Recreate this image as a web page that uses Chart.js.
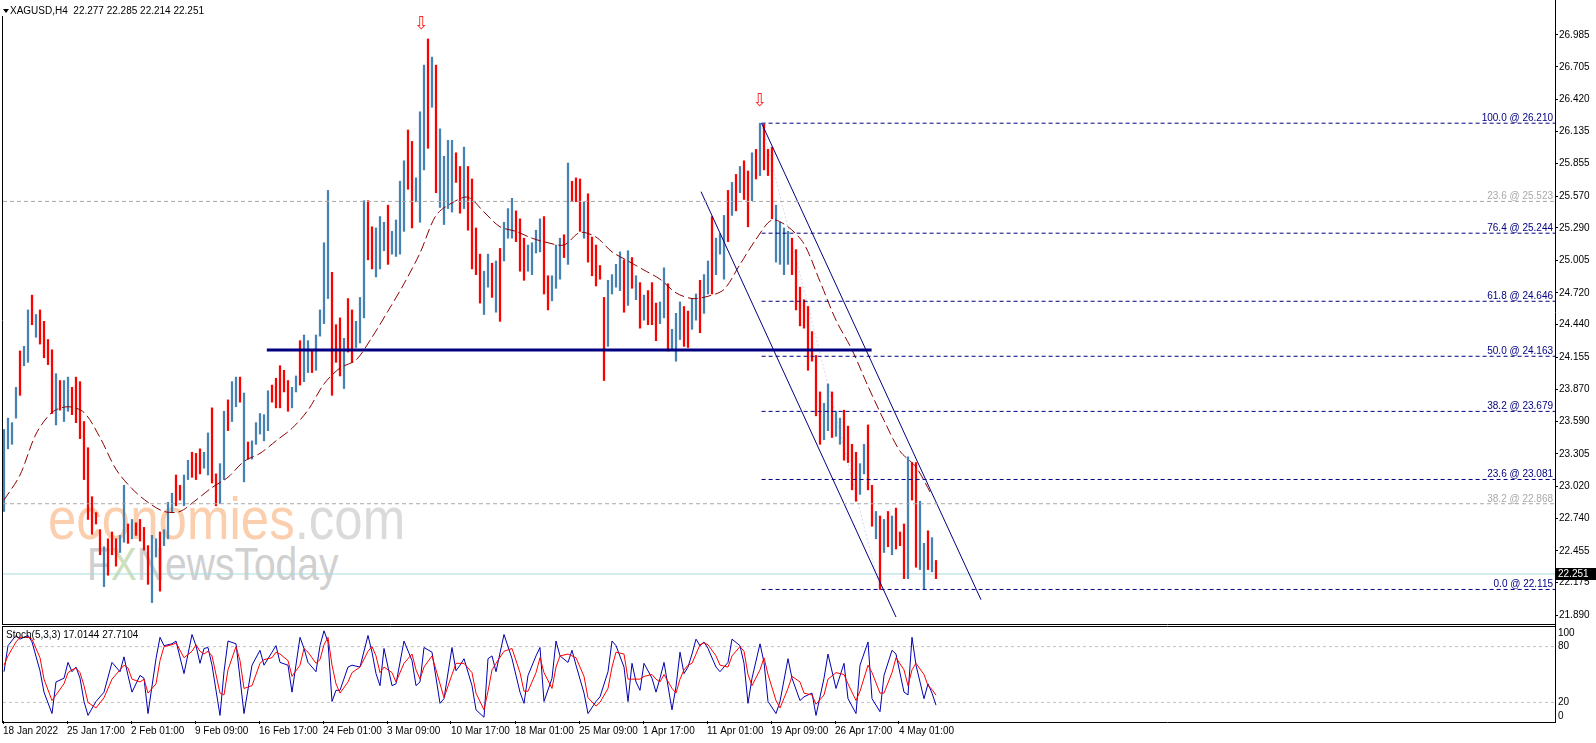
<!DOCTYPE html>
<html>
<head>
<meta charset="utf-8">
<script src="https://cdn.jsdelivr.net/npm/chart.js@4.4.1/dist/chart.umd.min.js"></script>
<style>
  body { margin: 0; background: #fff; width: 1596px; height: 743px; overflow: hidden; position: relative;
         font-family: "Liberation Sans", Arial, sans-serif; }
  canvas { position: absolute; left: 0; z-index: 1; }
  #main { top: 0; }
  #stoch { top: 625px; }
  .wm { position: absolute; white-space: nowrap; line-height: 1; transform-origin: 0 0; z-index: 0; }
  #wmEco { left: 48px; top: 489px; font-size: 60px; transform: scaleX(0.85); }
  #wmFx { left: 87px; top: 540px; font-size: 47px; color: #d0d0d0; transform: scaleX(0.83); }
  .txt { position: absolute; z-index: 2; font-size: 10px; white-space: pre; line-height: 12px; color: #000; }
  #legend { left: 10px; top: 5px; }
  #tri { position: absolute; left: 3px; top: 9px; width: 0; height: 0; z-index: 2;
         border-left: 3px solid transparent; border-right: 3px solid transparent; border-top: 4px solid #000; }
  #stochLabel { left: 6px; top: 629px; }
</style>
</head>
<body>
<div class="wm" id="wmEco"><span style="color:#fbcfae">economies</span><span style="color:#dadada">.com</span></div>
<div class="wm" id="wmFx">F<span style="color:#cde0bd">X</span>NewsToday</div>
<canvas id="main" width="1596" height="625"></canvas>
<canvas id="stoch" width="1596" height="118"></canvas>
<div id="tri"></div>
<div class="txt" id="legend"></div>
<div class="txt" id="stochLabel"></div>
<script>
// ---- data (one bar = two H4 candles) ----
const symbol = "XAGUSD,H4";
const ohlc = [22.277, 22.285, 22.214, 22.251];
const lastPrice = 22.251;

const xLabels = ["18 Jan 2022", "25 Jan 17:00", "2 Feb 01:00", "9 Feb 09:00", "16 Feb 17:00", "24 Feb 01:00",
  "3 Mar 09:00", "10 Mar 17:00", "18 Mar 01:00", "25 Mar 09:00", "1 Apr 17:00", "11 Apr 01:00",
  "19 Apr 09:00", "26 Apr 17:00", "4 May 01:00"];
const xLabelBars = [0, 16, 32, 48, 64, 80, 96, 112, 128, 144, 160, 176, 192, 208, 224];

const priceTicks = [26.985, 26.705, 26.420, 26.135, 25.855, 25.570, 25.290, 25.005, 24.720, 24.440,
  24.155, 23.870, 23.590, 23.305, 23.020, 22.740, 22.455, 22.175, 21.890];

const highs = [
  23.52,23.62,23.58,23.89,24.21,24.25,24.57,24.70,24.53,24.57,
  24.47,24.31,24.22,24.01,23.95,23.95,23.98,23.89,23.98,23.94,
  23.59,23.36,22.93,22.79,22.64,22.49,22.56,22.62,22.56,22.59,
  23.03,22.69,22.73,22.70,22.73,22.66,22.50,22.59,22.56,22.62,
  22.64,22.88,22.96,23.12,23.03,23.12,23.25,23.32,23.31,23.35,
  23.32,23.49,23.71,23.13,23.22,23.68,23.78,23.94,23.98,23.98,
  23.84,23.41,23.42,23.58,23.66,23.65,23.86,23.91,23.97,24.08,
  24.04,23.95,23.89,23.99,24.30,24.35,24.30,24.22,24.35,24.57,
  25.16,25.62,24.90,24.44,24.50,24.32,24.67,24.57,24.47,24.68,
  25.53,25.53,25.30,25.29,25.39,25.34,25.49,25.26,25.36,25.70,
  25.88,26.15,26.05,25.73,26.31,26.72,26.95,26.79,26.72,26.16,
  25.92,26.06,26.06,25.95,25.83,26.00,25.83,25.72,25.29,25.06,
  24.91,25.06,24.98,25.00,25.11,25.34,25.46,25.55,25.44,25.37,
  25.20,25.14,25.16,25.27,25.37,25.39,24.87,24.87,25.14,25.20,
  25.23,25.86,25.70,25.73,25.72,25.52,25.59,25.21,25.14,24.96,
  24.68,24.83,24.88,24.97,25.08,25.01,25.09,25.03,24.87,24.81,
  24.70,24.74,24.81,24.63,24.64,24.94,24.80,24.40,24.54,24.64,
  24.60,24.56,24.67,24.71,24.83,24.88,25.00,25.39,25.20,25.24,
  25.40,25.62,25.69,25.76,25.83,25.88,25.79,25.95,25.98,26.21,
  26.20,25.98,26.00,25.49,25.34,25.29,25.26,25.20,25.10,24.77,
  24.66,24.60,24.38,24.17,23.85,23.75,23.92,23.85,23.68,23.62,
  23.69,23.55,23.39,23.32,23.22,23.39,23.56,23.03,22.80,22.76,
  22.73,22.80,22.76,22.83,22.62,22.69,23.28,23.23,23.23,22.89,
  22.52,22.63,22.57,22.37];
const lows = [
  22.80,23.35,23.39,23.62,23.82,24.08,24.11,24.44,24.33,24.27,
  24.15,24.09,23.66,23.56,23.69,23.59,23.68,23.65,23.58,23.44,
  23.08,22.73,22.60,22.69,22.42,22.14,22.24,22.42,22.32,22.44,
  22.53,22.52,22.56,22.59,22.54,22.46,22.16,22.00,22.40,22.10,
  22.50,22.56,22.79,22.85,22.90,22.85,23.08,23.10,23.08,23.13,
  23.18,23.12,23.05,22.85,22.87,23.08,23.51,23.59,23.72,23.76,
  23.06,23.26,23.26,23.39,23.48,23.42,23.51,23.76,23.71,23.71,
  23.85,23.68,23.71,23.85,23.91,23.94,24.02,24.02,24.04,24.34,
  24.45,24.67,23.82,24.11,23.99,23.88,24.20,24.11,24.24,24.28,
  24.50,25.01,24.93,24.86,24.93,25.09,24.97,25.06,25.04,25.06,
  25.26,25.63,25.29,25.52,25.34,25.80,25.99,26.35,25.60,25.47,
  25.32,25.46,25.43,25.69,25.42,25.46,25.27,24.93,24.88,24.63,
  24.53,24.77,24.68,24.55,24.47,25.00,25.20,25.20,25.17,24.91,
  24.83,24.91,24.88,25.07,25.08,24.71,24.57,24.65,24.76,24.84,
  25.03,24.97,25.52,25.52,25.26,25.20,24.99,24.87,24.78,24.84,
  23.95,24.25,24.71,24.77,24.74,24.55,24.61,24.76,24.66,24.41,
  24.48,24.44,24.44,24.30,24.45,24.50,24.21,24.22,24.12,24.31,
  24.25,24.24,24.40,24.48,24.37,24.54,24.71,24.71,24.88,25.06,
  24.84,25.17,25.40,25.44,25.60,25.54,25.30,25.53,25.72,25.75,
  25.80,25.75,25.37,24.99,24.97,24.88,24.97,24.88,24.57,24.43,
  24.41,24.04,24.12,23.64,23.39,23.43,23.51,23.45,23.46,23.39,
  23.25,23.23,22.99,22.89,22.95,23.13,22.99,22.67,22.56,22.115,
  22.44,22.49,22.42,22.47,22.50,22.21,22.21,22.90,22.31,22.29,
  22.12,22.29,22.27,22.21];
// 1 = bullish (blue), 0 = bearish (red)
const upBars = [
  1,1,1,1,0,1,1,0,1,0, 0,0,0,1,0,1,1,0,0,0, 0,0,0,0,0,1,0,0,0,1, 1,0,1,0,0,0,0,1,1,0,
  1,1,1,0,0,1,1,0,0,0, 1,1,0,0,1,1,0,1,1,0, 1,0,1,1,1,1,1,0,0,0, 0,0,1,1,0,1,1,0,1,1,
  1,1,0,0,0,1,0,0,1,1, 1,0,0,1,1,1,0,1,1,1, 1,0,0,1,1,1,0,1,0,1, 1,1,1,0,0,1,0,0,0,0,
  1,1,0,1,0,1,1,1,0,0, 0,1,1,1,1,0,0,1,1,1, 0,1,0,0,0,1,0,0,0,0, 0,1,1,1,1,0,1,0,1,0,
  1,0,0,0,1,1,0,1,1,1, 0,0,1,1,0,1,1,0,1,1, 1,0,1,0,1,0,0,1,0,1, 0,0,0,1,1,1,1,0,0,0,
  0,0,0,0,0,1,1,0,1,1, 0,0,0,0,1,1,0,0,1,0, 1,0,1,0,0,0,1,0,0,1, 1,0,1,0];

const maBars = [0,4,8,12,16,20,24,28,32,36,40,44,48,52,56,60,64,68,72,76,80,84,88,92,96,100,
  104,108,112,116,120,124,128,132,136,140,144,148,152,156,160,164,168,172,176,180,184,188,
  192,196,200,204,208,212,216,220,224,228,232];
const maValues = [
  22.90,23.12,23.48,23.67,23.72,23.67,23.45,23.17,23.00,22.88,
  22.80,22.80,22.90,23.01,23.10,23.24,23.31,23.42,23.53,23.69,
  23.92,24.06,24.13,24.33,24.56,24.80,25.07,25.40,25.51,25.56,
  25.43,25.30,25.26,25.20,25.16,25.14,25.25,25.21,25.08,25.00,
  24.92,24.84,24.72,24.67,24.69,24.75,24.97,25.19,25.36,25.30,
  25.15,24.82,24.48,24.22,23.90,23.60,23.33,23.19,22.94];

// Fibonacci retracement drawn from the April top
const fibLevels = ["0.0", "23.6", "38.2", "50.0", "61.8", "76.4", "100.0"];
const fibPrices = [22.115, 23.081, 23.679, 24.163, 24.646, 25.244, 26.210];
const fibStartBar = 189.4;
const fibTrend = [[189.4, 26.21], [219, 22.115]];
// older retracement (grey)
const oldFibLevels = ["23.6", "38.2"];
const oldFibPrices = [25.523, 22.868];

const supportPrice = 24.218;
const supportBars = [65.7, 216.9];
const channelUpper = [[189.4, 26.21], [244.25, 22.025]];
const channelLower = [[174.25, 25.609], [223, 21.873]];
const arrowBars = [104.4, 189];
const arrowPrices = [27.08, 26.40];

// Stochastic (5,3,3)
const stochBars = [
  0,1,3,4,6,7,9,10,12,13, 15,16,17,18,19,20,21,23,25,27, 29,30,31,32,34,35,36,38,39,40,
  42,43,45,47,48,49,50,51,52,54, 55,56,58,59,60,62,64,65,67,68, 69,71,72,74,75,76,78,79,80,81,
  82,83,84,86,87,89,91,92,93,94, 95,97,98,100,102,103,104,105,107,109, 110,112,113,114,115,117,118,120,121,122,
  123,125,127,129,130,131,133,134,135,137, 138,139,141,142,143,145,146,148,149,151, 152,153,155,156,157,158,159,160,162,163,
  164,165,167,168,169,170,171,172,173,174, 175,176,178,179,181,182,184,185,186,187, 189,190,191,193,194,196,197,199,200,202,
  203,205,206,208,210,211,213,214,216,217, 219,220,222,223,225,226,227,228,230,231, 232,233];
const stochMain = [
  53,81,92,88,92,85,54,31,8,42, 46,63,53,58,46,21,6,21,31,63, 53,69,49,31,49,46,8,67,90,81,
  83,86,51,93,81,62,78,79,60,6, 53,86,83,46,8,60,76,60,74,81, 63,60,31,90,78,63,53,81,97,85,
  21,33,33,58,60,58,92,74,51,38, 78,38,40,86,65,38,42,79,74,19, 24,79,54,60,67,38,12,4,67,70,
  53,93,67,31,19,49,70,79,21,46, 86,70,63,76,60,30,8,21,26,53, 86,81,58,21,62,42,33,62,46,31,
  46,63,12,37,74,51,58,72,88,81, 85,78,58,53,63,88,81,62,19,46, 83,63,21,8,21,67,46,22,26,30,
  6,46,72,35,62,24,8,60,85,24, 10,49,76,72,31,28,90,60,24,40, 30,17.0144];
const stochSignal = [
  60,70,85,90,90,88,68,45,22,28, 40,52,55,57,52,38,20,14,25,45, 55,60,57,45,42,45,30,40,65,80,
  82,84,68,75,82,75,72,75,70,30, 28,55,80,65,35,38,62,66,68,74, 72,65,48,60,78,74,62,66,82,90,
  60,40,30,42,52,58,75,80,70,52, 58,52,42,62,72,55,45,58,70,40, 25,50,62,62,62,52,30,12,32,55,
  62,75,78,52,32,32,52,68,52,35, 58,70,72,70,68,48,25,16,20,35, 58,74,72,45,45,45,45,48,50,45,
  42,50,35,30,45,55,60,62,72,82, 84,82,70,60,58,70,80,75,50,38, 55,68,50,22,14,35,48,42,30,28,
  18,28,45,52,50,40,22,32,60,52, 30,30,52,68,55,38,55,62,50,38, 34,27.7104];
const stochLevels = [80, 20];
const stochAxis = [100, 80, 20, 0];

// ---- drawing ----
Chart.defaults.font.family = '"Liberation Sans", Arial, sans-serif';
Chart.defaults.font.size = 10;
Chart.defaults.color = '#000';

const X_MIN = -0.25, X_MAX = 387.75;
const FONT = '10px "Liberation Sans", Arial, sans-serif';
const NAVY = '#000080';

document.getElementById('legend').textContent = symbol + '  ' + ohlc.map(v => v.toFixed(3)).join(' ');
document.getElementById('stochLabel').textContent = 'Stoch(5,3,3) ' + stochMain[stochMain.length - 1].toFixed(4) +
  ' ' + stochSignal[stochSignal.length - 1].toFixed(4);

const pts = arr => arr.map(p => ({ x: p[0], y: p[1] }));
const flat = (price, from, to) => [{ x: from, y: price }, { x: to, y: price }];
const lineDs = (data, color, width, dash, order) => ({
  type: 'line', data, borderColor: color, borderWidth: width, borderDash: dash,
  pointRadius: 0, fill: false, tension: 0, order
});

const mainSets = [];
fibPrices.forEach(p => mainSets.push(lineDs(flat(p, fibStartBar, X_MAX), NAVY, 1, [4, 3], 0)));
oldFibPrices.forEach(p => mainSets.push(lineDs(flat(p, X_MIN, X_MAX), '#a9a9a9', 1, [4, 3], 0)));
mainSets.push(lineDs(flat(supportPrice, supportBars[0], supportBars[1]), NAVY, 3, [], 0));
mainSets.push(lineDs(pts(channelUpper), NAVY, 1, [], 0));
mainSets.push(lineDs(pts(channelLower), NAVY, 1, [], 0));
mainSets.push(lineDs(pts(fibTrend), '#d6d6f2', 1, [2, 2], 3));
const ma = lineDs(maBars.map((b, i) => ({ x: b, y: maValues[i] })), '#8b0000', 1, [10, 4], 1);
ma.tension = 0.3;
mainSets.push(ma);
mainSets.push({
  type: 'bar', order: 2, barThickness: 1.6, borderWidth: 0,
  data: highs.map((h, i) => ({ x: i, y: [lows[i], h] })),
  backgroundColor: upBars.map(u => u ? '#4682b4' : '#ff0000')
});
mainSets.push(lineDs(flat(lastPrice, X_MIN, X_MAX), '#a8dadc', 1, [], 4));

const mainDeco = {
  id: 'mainDeco',
  afterDraw(chart) {
    const ctx = chart.ctx, xs = chart.scales.x, ys = chart.scales.y, a = chart.chartArea;
    ctx.save();
    ctx.font = FONT;
    ctx.textAlign = 'right';
    ctx.textBaseline = 'alphabetic';
    fibLevels.forEach((l, i) => {
      ctx.fillStyle = NAVY;
      ctx.fillText(l + ' @ ' + fibPrices[i].toFixed(3), a.right - 2, ys.getPixelForValue(fibPrices[i]) - 2);
    });
    oldFibLevels.forEach((l, i) => {
      ctx.fillStyle = '#a9a9a9';
      ctx.fillText(l + ' @ ' + oldFibPrices[i].toFixed(3), a.right - 2, ys.getPixelForValue(oldFibPrices[i]) - 2);
    });
    // peak arrows
    ctx.font = '18px "DejaVu Sans", sans-serif';
    ctx.textAlign = 'center';
    ctx.textBaseline = 'middle';
    ctx.fillStyle = '#ff2a2a';
    arrowBars.forEach((b, i) => ctx.fillText('\u21E9', xs.getPixelForValue(b), ys.getPixelForValue(arrowPrices[i])));
    // frame
    ctx.strokeStyle = '#000';
    ctx.lineWidth = 1;
    ctx.beginPath();
    ctx.moveTo(2.5, 16); ctx.lineTo(2.5, 625);
    ctx.moveTo(2, 624.5); ctx.lineTo(a.right + 1, 624.5);
    ctx.moveTo(a.right + 0.5, 0); ctx.lineTo(a.right + 0.5, 625);
    ctx.stroke();
    // last price tag
    const py = Math.round(ys.getPixelForValue(lastPrice));
    ctx.fillStyle = '#000';
    ctx.fillRect(a.right + 1, py - 6, 40, 12);
    ctx.fillStyle = '#fff';
    ctx.font = FONT;
    ctx.textAlign = 'left';
    ctx.fillText(lastPrice.toFixed(3), a.right + 3, py);
    ctx.restore();
  }
};

new Chart(document.getElementById('main'), {
  type: 'bar',
  data: { datasets: mainSets },
  options: {
    responsive: false, animation: false, events: [],
    layout: { padding: { left: 3, top: 1, right: 0, bottom: 1 } },
    plugins: { legend: { display: false }, tooltip: { enabled: false } },
    scales: {
      x: { type: 'linear', min: X_MIN, max: X_MAX, offset: false, display: false },
      y: {
        type: 'linear', position: 'right', min: 21.8644, max: 27.2305, beginAtZero: false,
        afterBuildTicks: s => { s.ticks = priceTicks.map(v => ({ value: v })); },
        afterFit: s => { s.width = 41; },
        ticks: { callback: v => v.toFixed(3), padding: 1, color: '#000' },
        grid: { drawOnChartArea: false, drawTicks: true, tickLength: 3, color: '#000' },
        border: { display: false }
      }
    }
  },
  plugins: [mainDeco]
});

const stochDeco = {
  id: 'stochDeco',
  afterDraw(chart) {
    const ctx = chart.ctx, ys = chart.scales.y, a = chart.chartArea;
    ctx.save();
    ctx.font = FONT;
    ctx.fillStyle = '#000';
    ctx.textAlign = 'left';
    ctx.textBaseline = 'middle';
    stochAxis.forEach(v => {
      const off = v === 100 ? 5 : (v === 0 ? -5 : 0);
      ctx.fillText(String(v), a.right + 3, ys.getPixelForValue(v) + off);
    });
    ctx.strokeStyle = '#000';
    ctx.lineWidth = 1;
    ctx.beginPath();
    ctx.moveTo(2, 1.5); ctx.lineTo(a.right + 1, 1.5);
    ctx.moveTo(2, 97.5); ctx.lineTo(a.right + 1, 97.5);
    ctx.moveTo(2.5, 1); ctx.lineTo(2.5, 98);
    ctx.moveTo(a.right + 0.5, 0); ctx.lineTo(a.right + 0.5, 98);
    ctx.stroke();
    ctx.restore();
  }
};

const stochSets = [];
stochLevels.forEach(l => stochSets.push(lineDs(flat(l, X_MIN, X_MAX), '#c0c0c0', 1, [3, 3], 3)));
stochSets.push(lineDs(stochBars.map((b, i) => ({ x: b, y: stochMain[i] })), '#0000b0', 1, [], 1));
stochSets.push(lineDs(stochBars.map((b, i) => ({ x: b, y: stochSignal[i] })), '#ff0000', 1, [], 0));

new Chart(document.getElementById('stoch'), {
  type: 'line',
  data: { datasets: stochSets },
  options: {
    responsive: false, animation: false, events: [],
    layout: { padding: { left: 3, top: 3, right: 0, bottom: 0 } },
    plugins: { legend: { display: false }, tooltip: { enabled: false } },
    scales: {
      x: {
        type: 'linear', position: 'bottom', min: X_MIN, max: X_MAX, offset: false,
        afterBuildTicks: s => { s.ticks = xLabelBars.map(b => ({ value: b - 0.25 })); },
        afterFit: s => { s.height = 22; },
        ticks: { callback: (v, i) => xLabels[i], autoSkip: false, maxRotation: 0, minRotation: 0,
                 align: 'start', padding: 1, color: '#000' },
        grid: { drawOnChartArea: false, drawTicks: true, tickLength: 3, color: '#000' },
        border: { display: false }
      },
      y: {
        type: 'linear', position: 'right', min: 0, max: 100,
        afterFit: s => { s.width = 41; },
        ticks: { display: false },
        grid: { display: false },
        border: { display: false }
      }
    }
  },
  plugins: [stochDeco]
});
</script>
</body>
</html>
